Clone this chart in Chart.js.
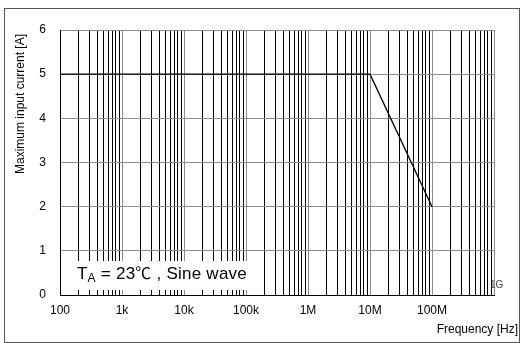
<!DOCTYPE html>
<html><head><meta charset="utf-8">
<script src="https://cdn.jsdelivr.net/npm/chart.js@4"></script>
<style>html,body{margin:0;padding:0;background:#fff}#wrap{width:520px;height:343px;position:relative}</style>
</head><body><div id="wrap"><canvas id="c" width="520" height="343"></canvas></div>
<script>
// Data
const frequencies = [100, 1e7, 1e8];
const currents = [5, 5, 2];
const yTickValues = [0, 1, 2, 3, 4, 5, 6];
const decadeValues = [100, 1e3, 1e4, 1e5, 1e6, 1e7, 1e8, 1e9];
const decadeLabels = ['100', '1k', '10k', '100k', '1M', '10M', '100M', ''];
const minorMultipliers = [1, 2, 3, 4, 5, 6, 7, 8, 9];
const xTitle = 'Frequency [Hz]';
const yTitle = 'Maximum input current [A]';
const noteMain = 'T';
const noteSub = 'A';
const noteMid = ' = 23';
const noteDeg = '\u2103';
const noteRest = ' , Sine wave';
const endLabel = '1G';

// tick positions for the log grid
const xTickValues = [];
decadeValues.forEach((d, i) => {
  if (i === decadeValues.length - 1) { xTickValues.push(d); return; }
  minorMultipliers.forEach(m => xTickValues.push(d * m));
});
function isDecade(v) {
  const l = Math.log10(v);
  return Math.abs(l - Math.round(l)) < 1e-9;
}
function labelFor(v) {
  const i = decadeValues.findIndex(d => Math.abs(d - v) / d < 1e-9);
  return i >= 0 ? decadeLabels[i] : '';
}

const FONT = '"Liberation Sans", Arial, "Noto Sans CJK JP", sans-serif';
const CJK = '"Noto Sans CJK JP", sans-serif';

const overlay = {
  id: 'overlay',
  beforeDatasetsDraw(chart) {
    const ctx = chart.ctx;
    ctx.save();
    // annotation box
    ctx.fillStyle = '#fff';
    ctx.fillRect(61, 261, 190, 29);
    ctx.fillStyle = '#000';
    ctx.textBaseline = 'alphabetic';
    ctx.textAlign = 'left';
    const base = 278.5;
    const parts = [
      [noteMain, '17px ' + FONT, 0],
      [noteSub, '12px ' + FONT, 3.5],
      [noteMid, '17px ' + FONT, 0],
      [noteDeg, '16px ' + CJK, 0],
      [noteRest, '17px ' + FONT, 0]
    ];
    let total = 0;
    parts.forEach(p => { ctx.font = p[1]; total += ctx.measureText(p[0]).width; });
    const target = 170;
    const chars = parts.reduce((a, p) => a + p[0].length, 0);
    const extra = (target - total) / chars;
    let x = 77;
    parts.forEach(p => {
      ctx.font = p[1];
      for (const ch of p[0]) {
        ctx.fillText(ch, x, base + p[2]);
        x += ctx.measureText(ch).width + extra;
      }
    });
    ctx.restore();
  },
  afterDraw(chart) {
    const ctx = chart.ctx;
    ctx.save();
    // outer frame
    ctx.strokeStyle = '#555';
    ctx.lineWidth = 1;
    ctx.strokeRect(4.5, 8.5, 515, 334);
    // y title
    ctx.fillStyle = '#000';
    ctx.font = '12px ' + FONT;
    ctx.textAlign = 'center';
    ctx.textBaseline = 'middle';
    ctx.translate(21, 104);
    ctx.rotate(-Math.PI / 2);
    ctx.fillText(yTitle, 0, 0);
    ctx.setTransform(1, 0, 0, 1, 0, 0);
    // x title
    ctx.font = '12px ' + FONT;
    ctx.textAlign = 'right';
    ctx.textBaseline = 'alphabetic';
    ctx.fillText(xTitle, 518, 333);
    // 1G label
    ctx.font = '10px ' + FONT;
    ctx.fillStyle = '#444';
    ctx.textAlign = 'left';
    ctx.fillText(endLabel, 490, 288);
    ctx.restore();
  }
};

new Chart(document.getElementById('c'), {
  type: 'line',
  data: {
    datasets: [{
      data: frequencies.map((f, i) => ({ x: f, y: currents[i] })),
      borderColor: '#000',
      borderWidth: 1.3,
      pointRadius: 0,
      fill: false,
      tension: 0
    }]
  },
  options: {
    responsive: false,
    animation: false,
    devicePixelRatio: 1,
    layout: { padding: { left: 0, top: 30, right: 26, bottom: 0 } },
    plugins: { legend: { display: false }, tooltip: { enabled: false } },
    scales: {
      x: {
        type: 'logarithmic',
        min: 100,
        max: 1e9,
        afterBuildTicks: s => { s.ticks = xTickValues.map(v => ({ value: v, major: isDecade(v) })); },
        afterFit: s => { s.height = 48; },
        ticks: {
          autoSkip: false,
          maxRotation: 0,
          minRotation: 0,
          padding: 8,
          color: '#000',
          font: { family: FONT, size: 12 },
          callback: v => labelFor(v)
        },
        grid: {
          drawTicks: false,
          lineWidth: 1,
          color: c => (c.tick && isDecade(c.tick.value)) ? '#8c8c8c' : '#000'
        },
        border: { color: '#000', width: 1 }
      },
      y: {
        type: 'linear',
        min: 0,
        max: 6,
        afterBuildTicks: s => { s.ticks = yTickValues.map(v => ({ value: v })); },
        afterFit: s => { s.width = 60; },
        ticks: {
          padding: 14,
          color: '#000',
          font: { family: FONT, size: 12 }
        },
        grid: { drawTicks: false, lineWidth: 1, color: '#8c8c8c' },
        border: { color: '#000', width: 1 }
      }
    }
  },
  plugins: [overlay]
});
</script>
</body></html>
